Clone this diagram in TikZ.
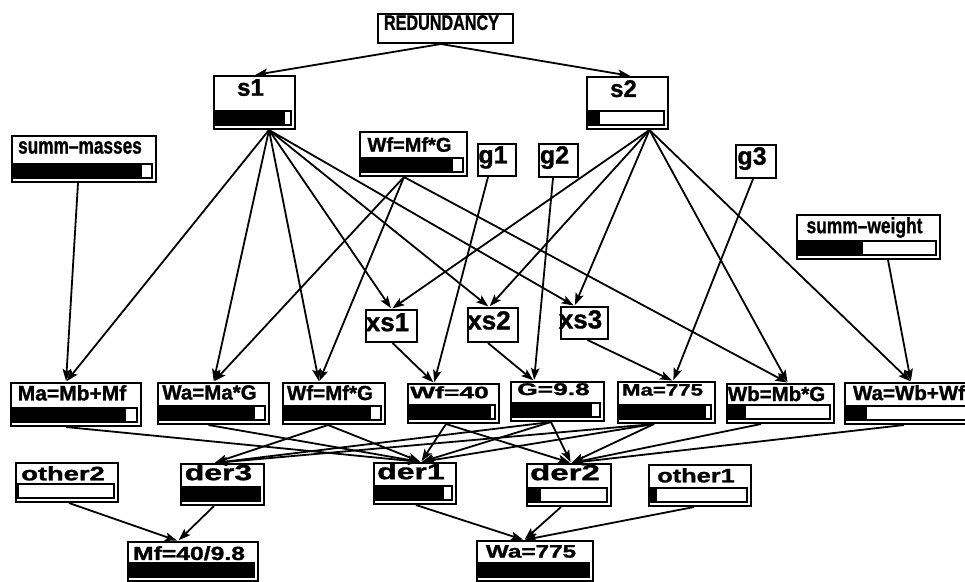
\documentclass[tikz,border=0pt]{standalone}
\usepackage{fontspec}
\setmainfont{Liberation Sans}[BoldFeatures={FakeBold=1.2}]
\usepackage{graphicx}
\usetikzlibrary{arrows.meta}

\tikzset{
  boxline/.style={draw=black, line width=2pt, fill=white, inner sep=0pt,
                  rectangle, anchor=north west},
  barline/.style={draw=black, line width=1.3pt},
  barfill/.style={fill=black},
  lbl/.style={inner sep=0pt, anchor=north, font=\bfseries},
  edge/.style={line width=1.8pt, shorten >=1pt,
               -{Stealth[length=12pt,width=8.5pt,inset=2.5pt]}},
}

% label text: size (pt), horizontal scale, text
\newcommand\lab[3]{\fontsize{#1}{#1}\selectfont\scalebox{#2}[1]{#3}}

% framed label box: name, x1, y1, x2, y2, label top offset, label
\newcommand\plainbx[7]{%
  \node[boxline, minimum width={(#4-#2)*1pt}, minimum height={(#5-#3)*1pt}] (#1) at (#2,#3) {};
  \node[lbl] (#1-l) at ({(#2+#4)/2-3},{#3+#6}) {#7};
}

% framed box with a belief bar: name, x1, y1, x2, y2, fill fraction, label top offset, label
\newcommand\barbx[8]{%
  \plainbx{#1}{#2}{#3}{#4}{#5}{#7}{#8}
  \fill[white] ({#2+3},{#5-17}) rectangle ({#4-3},{#5-3});
  \fill[barfill] ({#2+3},{#5-17}) rectangle ({#2+3+#6*(#4-#2-6)},{#5-3});
  \draw[barline] ({#2+3},{#5-17}) rectangle ({#4-3},{#5-3});
}

% connector: source, source x offset, target, target x offset
\newcommand\conn[4]{\draw[edge] ([xshift=#2pt]#1.south) -- ([xshift=#4pt]#3.north);}

\begin{document}
\begin{tikzpicture}[x=1pt, y=-1pt]
\useasboundingbox (0,0) rectangle (965,581);
\fill[white] (0,0) rectangle (965,581);

% top level
\plainbx{red}{377}{13}{512}{42}{2}{\lab{21}{0.77}{REDUNDANCY}}
\barbx{s1}{213}{75}{294}{128}{0.92}{4}{\lab{24}{1}{s1}}
\barbx{s2}{586}{76}{667}{128}{0.14}{4}{\lab{24}{1}{s2}}

% evidence and constraint nodes
\barbx{summm}{11}{135}{155}{181}{0.93}{6}{\lab{23}{0.75}{summ–masses}}
\barbx{wftop}{359}{131}{466}{175}{0.9}{6}{\lab{20}{1}{Wf=Mf*G}}
\plainbx{g1}{477}{143}{515}{175}{3}{\lab{25}{1}{g1}}
\plainbx{g2}{538}{143}{577}{176}{3}{\lab{25}{1}{g2}}
\plainbx{g3}{735}{144}{775}{177}{3}{\lab{25}{1}{g3}}
\barbx{summw}{796}{214}{939}{258}{0.47}{3}{\lab{22}{0.79}{summ–weight}}

\plainbx{xs1}{365}{309}{416}{341}{4}{\lab{26}{1}{xs1}}
\plainbx{xs2}{467}{307}{517}{341}{4}{\lab{26}{1}{xs2}}
\plainbx{xs3}{560}{306}{607}{338}{4}{\lab{26}{1}{xs3}}

% middle row
\barbx{mamf}{10}{382}{140}{425}{0.91}{3}{\lab{21}{1}{Ma=Mb+Mf}}
\barbx{wamg}{157}{382}{268}{423}{0.9}{3}{\lab{20.5}{1}{Wa=Ma*G}}
\barbx{wfmg}{282}{382}{384}{423}{0.9}{3}{\lab{20.5}{1}{Wf=Mf*G}}
\barbx{wf40}{407}{383}{498}{422}{0.95}{3}{\lab{16.5}{1.6}{Wf=40}}
\barbx{g98}{510}{381}{603}{420}{0.91}{2}{\lab{17}{1.55}{G=9.8}}
\barbx{ma775}{617}{381}{714}{422}{0.94}{3}{\lab{16.5}{1.35}{Ma=775}}
\barbx{wbmg}{726}{383}{833}{422}{0.17}{3}{\lab{20.5}{1}{Wb=Mb*G}}
\barbx{wawb}{844}{382}{980}{423}{0.15}{3}{\lab{20.5}{1}{Wa=Wb+Wf}}

% derivation row
\barbx{other2}{15}{462}{117}{501}{0}{4}{\lab{19.5}{1.4}{other2}}
\barbx{der3}{180}{463}{263}{504}{1}{1}{\lab{22}{1.45}{der3}}
\barbx{der1}{373}{462}{455}{503}{0.9}{1}{\lab{22}{1.45}{der1}}
\barbx{der2}{526}{463}{610}{505}{0.15}{1}{\lab{22}{1.5}{der2}}
\barbx{other1}{648}{464}{750}{505}{0.06}{4}{\lab{19.5}{1.3}{other1}}

% results
\barbx{mf}{127}{541}{257}{580}{1}{5}{\lab{19}{1.3}{Mf=40/9.8}}
\barbx{wa775}{476}{540}{592}{580}{1}{5}{\lab{18}{1.35}{Wa=775}}

% connectors
\conn{red}{-4.5}{s1}{0}
\conn{red}{-4.5}{s2}{3.5}

\conn{s1}{14.5}{mamf}{-10}
\conn{s1}{14.5}{wamg}{0}
\conn{s1}{14.5}{wfmg}{-15}
\conn{s1}{14.5}{xs1}{0}
\conn{s1}{14.5}{xs2}{-4}
\conn{s1}{14.5}{xs3}{-10}

\conn{s2}{22}{xs1}{0}
\conn{s2}{22}{xs2}{-4}
\conn{s2}{22}{xs3}{-10}
\conn{s2}{22}{wbmg}{7.5}
\conn{s2}{22}{wawb}{-2}

\conn{summm}{-6}{mamf}{-10}
\conn{wftop}{-9.5}{wamg}{0}
\conn{wftop}{-9.5}{wfmg}{-15}
\conn{wftop}{-9.5}{wbmg}{7.5}
\conn{g1}{-9}{wf40}{-19.5}
\conn{g2}{-5.5}{g98}{-23.5}
\conn{g3}{-3}{ma775}{6.5}
\conn{summw}{19.5}{wawb}{-2}

\conn{xs1}{1}{wf40}{-19.5}
\conn{xs2}{-5}{g98}{-23.5}
\conn{xs3}{3}{ma775}{6.5}

\conn{mamf}{-10}{der1}{6}
\conn{wamg}{-5}{der1}{6}
\conn{wfmg}{-6}{der3}{-8.5}
\conn{wfmg}{-6}{der1}{6}
\conn{wf40}{-7.5}{der1}{6}
\conn{wf40}{-7.5}{der2}{2}
\conn{g98}{-6.5}{der3}{-8.5}
\conn{g98}{-6.5}{der1}{6}
\conn{g98}{-6.5}{der2}{2}
\conn{ma775}{-12.5}{der3}{-8.5}
\conn{ma775}{-12.5}{der1}{6}
\conn{ma775}{-12.5}{der2}{2}
\conn{wbmg}{-19.5}{der2}{2}
\conn{wawb}{-9}{der2}{2}

\conn{other2}{2}{mf}{-15}
\conn{der3}{-8.5}{mf}{-15}
\conn{der1}{1}{wa775}{-11}
\conn{der2}{-8}{wa775}{-11}
\conn{other1}{-6}{wa775}{-11}
\end{tikzpicture}
\end{document}
